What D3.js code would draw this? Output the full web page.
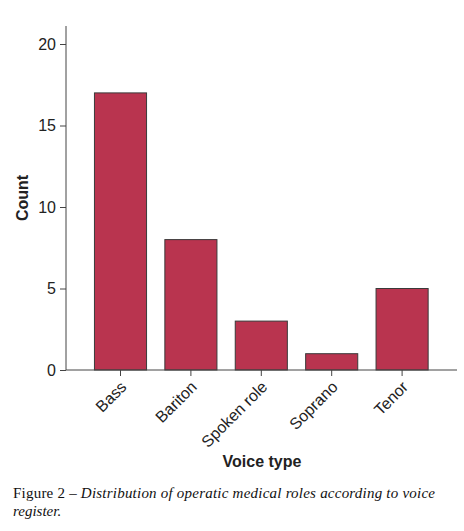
<!DOCTYPE html>
<html>
<head>
<meta charset="utf-8">
<script src="https://cdn.jsdelivr.net/npm/d3@7"></script>
<style>
  body { margin: 0; background: #fff; }
  svg { display: block; }
</style>
</head>
<body>
<div id="chart"></div>
<script>
const categories = ['Bass', 'Bariton', 'Spoken role', 'Soprano', 'Tenor'];
const counts = [17, 8, 3, 1, 5];
const yTicks = [0, 5, 10, 15, 20];

const width = 464;
const height = 531;

const svg = d3.select("#chart")
    .append("svg")
    .attr("width", width)
    .attr("height", height);

// plot area in pixels
const plotLeft = 66, plotBottom = 370, plotTop = 44;

const x = d3.scaleBand()
    .domain(categories)
    .range([85.3, 437.3])
    .paddingInner(0.26)
    .paddingOuter(0.13);

const y = d3.scaleLinear()
    .domain([0, 20])
    .range([plotBottom, plotTop]);

// bars
svg.append("g")
    .selectAll("rect")
    .data(categories)
    .enter()
    .append("rect")
    .attr("x", d => x(d))
    .attr("y", (d, i) => y(counts[i]))
    .attr("width", x.bandwidth())
    .attr("height", (d, i) => plotBottom - y(counts[i]))
    .attr("fill", "#b9344f")
    .attr("stroke", "#3a3a3a")
    .attr("stroke-width", 1);

// y axis
const yAxis = svg.append("g")
    .attr("transform", `translate(${plotLeft},0)`)
    .call(d3.axisLeft(y).tickValues(yTicks).tickSize(6).tickPadding(4));
yAxis.select(".domain").remove();
yAxis.append("line")
    .attr("x1", 0).attr("x2", 0)
    .attr("y1", 26).attr("y2", plotBottom)
    .attr("stroke", "#444");
yAxis.selectAll(".tick line").attr("stroke", "#444");
yAxis.selectAll(".tick text")
    .attr("font-family", "Liberation Sans, Arial, sans-serif")
    .attr("font-size", 16)
    .attr("fill", "#222");

// x axis
const xAxis = svg.append("g")
    .attr("transform", `translate(0,${plotBottom})`)
    .call(d3.axisBottom(x).tickSize(6).tickFormat(""));
xAxis.select(".domain").remove();
xAxis.append("line")
    .attr("x1", plotLeft).attr("x2", 457)
    .attr("y1", 0).attr("y2", 0)
    .attr("stroke", "#444");
xAxis.selectAll(".tick line").attr("stroke", "#444");

// rotated category labels
svg.append("g")
    .selectAll("text")
    .data(categories)
    .enter()
    .append("text")
    .attr("transform", d => `translate(${x(d) + x.bandwidth() / 2 + 7},388) rotate(-45)`)
    .attr("text-anchor", "end")
    .attr("font-family", "Liberation Sans, Arial, sans-serif")
    .attr("font-size", 16)
    .attr("fill", "#222")
    .text(d => d);

// axis titles
svg.append("text")
    .attr("x", 262)
    .attr("y", 467)
    .attr("text-anchor", "middle")
    .attr("font-family", "Liberation Sans, Arial, sans-serif")
    .attr("font-weight", "bold")
    .attr("font-size", 16)
    .attr("fill", "#222")
    .text("Voice type");

svg.append("text")
    .attr("transform", "translate(28,198) rotate(-90)")
    .attr("text-anchor", "middle")
    .attr("font-family", "Liberation Sans, Arial, sans-serif")
    .attr("font-weight", "bold")
    .attr("font-size", 16)
    .attr("fill", "#222")
    .text("Count");

// caption
const cap = svg.append("text")
    .attr("x", 13)
    .attr("y", 498)
    .attr("font-family", "Liberation Serif, Times New Roman, serif")
    .attr("font-size", 15)
    .attr("fill", "#111")
    .attr("textLength", 422)
    .attr("lengthAdjust", "spacing");
cap.append("tspan").text("Figure 2 \u2013 ");
cap.append("tspan").attr("font-style", "italic")
    .text("Distribution of operatic medical roles according to voice");

svg.append("text")
    .attr("x", 13)
    .attr("y", 516)
    .attr("font-family", "Liberation Serif, Times New Roman, serif")
    .attr("font-size", 15)
    .attr("font-style", "italic")
    .attr("fill", "#111")
    .text("register.");
</script>
</body>
</html>
